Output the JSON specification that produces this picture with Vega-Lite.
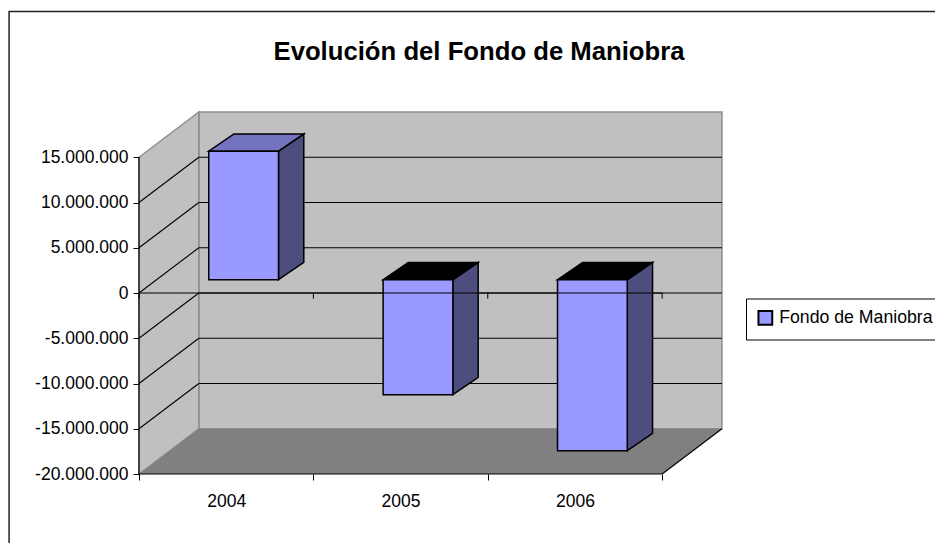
{
"$schema":"https://vega.github.io/schema/vega-lite/v6.json",
"autosize":{"type":"none"},
"padding":{"left":139,"top":112,"right":212,"bottom":69},
"width":584,"height":362,
"background":"white",
"title":{"text":"Evolución del Fondo de Maniobra","font":"Liberation Sans","fontSize":25.7,"fontWeight":"bold","color":"black","anchor":"middle","dx":48,"offset":-55},
"config":{"view":{"stroke":null},"axis":{"labelFont":"Liberation Sans","labelFontSize":17.5,"labelColor":"black","tickColor":"black","domain":false,"grid":false,"title":null,"zindex":1},"legend":{"labelFont":"Liberation Sans","labelFontSize":17.7,"labelColor":"black"}},
"datasets":{
"bars":[{"year":2004,"value":14200000,"series":"Fondo de Maniobra"},{"year":2005,"value":-12700000,"series":"Fondo de Maniobra"},{"year":2006,"value":-18900000,"series":"Fondo de Maniobra"}],
"depth":[{"d":0},{"d":1}],
"grid":[{"v":-15000000},{"v":-10000000},{"v":-5000000},{"v":0},{"v":5000000},{"v":10000000}],
"bounds":[{"b":2003.5},{"b":2004.5},{"b":2005.5},{"b":2006.5}],
"one":[{"o":1}]
},
"layer":[
{"data":{"name":"one"},"mark":{"type":"rect","fill":"transparent","stroke":"#222222","strokeWidth":1.5},
"encoding":{"x":{"datum":2002.755,"type":"quantitative","scale":{"domain":[2003.5,2006.849],"nice":false,"zero":false},
"axis":{"zindex":1,"values":[2003.5,2004,2004.5,2005,2005.5,2006,2006.5],"tickSize":6,"labelPadding":12,"labelOverlap":false,"labelFlush":false,"labelBound":false,"labelAngle":0,"tickOpacity":{"condition":{"test":"datum.value%1==0","value":0},"value":1},"labelExpr":"datum.value%1==0?format(datum.value,'d'):''"}},
"x2":{"datum":2010},
"y":{"datum":31100000,"type":"quantitative","scale":{"domain":[-20000000,20000000],"nice":false,"zero":false},
"axis":{"zindex":1,"values":[-20000000,-15000000,-10000000,-5000000,0,5000000,10000000,15000000],"tickSize":6,"labelPadding":5,"labelExpr":"replace(replace(format(datum.value,','),/,/g,'.'),'−','-')"}},
"y2":{"datum":-50000000}}},
{"data":{"name":"one"},"mark":{"type":"rect","fill":"#C0C0C0","stroke":"#8E8E8E","strokeWidth":1.5},
"encoding":{"x":{"datum":2003.843,"type":"quantitative","scale":{"domain":[2003.5,2006.849],"nice":false,"zero":false}},"x2":{"datum":2006.843},
"y":{"datum":-15000000,"type":"quantitative","scale":{"domain":[-20000000,20000000],"nice":false,"zero":false}},"y2":{"datum":20000000}}},
{"data":{"name":"depth"},"transform":[{"calculate":"2003.5+0.343*datum.d","as":"x"},{"calculate":"-20000000+5000000*datum.d","as":"lo"},{"calculate":"15000000+5000000*datum.d","as":"hi"}],
"mark":{"type":"area","fill":"#C0C0C0","stroke":"#8E8E8E","strokeWidth":1.5},
"encoding":{"x":{"field":"x","type":"quantitative","scale":{"domain":[2003.5,2006.849],"nice":false,"zero":false}},
"y":{"field":"lo","type":"quantitative","stack":null,"scale":{"domain":[-20000000,20000000],"nice":false,"zero":false}},"y2":{"field":"hi"}}},
{"data":{"name":"depth"},"transform":[{"calculate":"2003.5+0.343*datum.d","as":"x0"},{"calculate":"2006.5+0.343*datum.d","as":"x1"},{"calculate":"-20000000+5000000*datum.d","as":"y"}],
"mark":{"type":"area","orient":"horizontal","fill":"#808080"},
"encoding":{"x":{"field":"x0","type":"quantitative","stack":null,"scale":{"domain":[2003.5,2006.849],"nice":false,"zero":false}},"x2":{"field":"x1"},
"y":{"field":"y","type":"quantitative","scale":{"domain":[-20000000,20000000],"nice":false,"zero":false}}}},
{"data":{"name":"grid"},"transform":[{"calculate":"datum.v+5000000","as":"b"}],
"mark":{"type":"rule","color":"black","strokeWidth":1.1},
"encoding":{"x":{"datum":2003.5,"type":"quantitative","scale":{"domain":[2003.5,2006.849],"nice":false,"zero":false}},"x2":{"datum":2003.843},
"y":{"field":"v","type":"quantitative","scale":{"domain":[-20000000,20000000],"nice":false,"zero":false}},"y2":{"field":"b"}}},
{"data":{"name":"grid"},"transform":[{"calculate":"datum.v+5000000","as":"b"}],
"mark":{"type":"rule","color":"black","strokeWidth":1.1},
"encoding":{"x":{"datum":2003.843,"type":"quantitative","scale":{"domain":[2003.5,2006.849],"nice":false,"zero":false}},"x2":{"datum":2006.843},
"y":{"field":"b","type":"quantitative","scale":{"domain":[-20000000,20000000],"nice":false,"zero":false}}}},
{"data":{"name":"bars"},"transform":[{"calculate":"[0,1]","as":"d"},{"flatten":["d"]},{"calculate":"datum.year+0.3+0.145*datum.d","as":"x"},{"calculate":"1470000+1910000*datum.d","as":"base"},{"calculate":"datum.value+datum.base","as":"end"}],
"mark":{"type":"area","fill":"#4D4D80","stroke":"black","strokeWidth":1.5},
"encoding":{"detail":{"field":"year"},"x":{"field":"x","type":"quantitative","scale":{"domain":[2003.5,2006.849],"nice":false,"zero":false}},
"y":{"field":"end","type":"quantitative","stack":null,"scale":{"domain":[-20000000,20000000],"nice":false,"zero":false}},"y2":{"field":"base"}}},
{"data":{"name":"bars"},"transform":[{"calculate":"[0,1]","as":"d"},{"flatten":["d"]},{"calculate":"datum.year-0.1+0.145*datum.d","as":"x0"},{"calculate":"datum.year+0.3+0.145*datum.d","as":"x1"},{"calculate":"max(datum.value,0)+1470000+1910000*datum.d","as":"y"}],
"mark":{"type":"area","orient":"horizontal","stroke":"black","strokeWidth":1.5},
"encoding":{"detail":{"field":"year"},"fill":{"condition":{"test":"datum.value<0","value":"#000000"},"value":"#7373BF"},
"x":{"field":"x0","type":"quantitative","stack":null,"scale":{"domain":[2003.5,2006.849],"nice":false,"zero":false}},"x2":{"field":"x1"},
"y":{"field":"y","type":"quantitative","scale":{"domain":[-20000000,20000000],"nice":false,"zero":false}}}},
{"data":{"name":"bars"},"transform":[{"calculate":"datum.year-0.1","as":"x0"},{"calculate":"datum.year+0.3","as":"x1"},{"calculate":"datum.value+1470000","as":"end"},{"calculate":"1470000","as":"base"}],
"mark":{"type":"rect","stroke":"black","strokeWidth":1.5},
"encoding":{"x":{"field":"x0","type":"quantitative","scale":{"domain":[2003.5,2006.849],"nice":false,"zero":false}},"x2":{"field":"x1"},
"y":{"field":"end","type":"quantitative","scale":{"domain":[-20000000,20000000],"nice":false,"zero":false}},"y2":{"field":"base"},
"color":{"field":"series","type":"nominal","scale":{"range":["#9999FF"]},
"legend":{"title":null,"orient":"none","legendX":607,"legendY":186.5,"strokeColor":"black","fillColor":"white","padding":10.5,"symbolType":"square","symbolSize":190,"symbolStrokeColor":"black","symbolStrokeWidth":2,"symbolOpacity":1,"labelOffset":5,"labelLimit":300}}}},
{"data":{"name":"one"},"mark":{"type":"rule","color":"black","strokeWidth":1.2},
"encoding":{"x":{"datum":2003.5,"type":"quantitative","scale":{"domain":[2003.5,2006.849],"nice":false,"zero":false}},"x2":{"datum":2006.5},
"y":{"datum":0,"type":"quantitative","scale":{"domain":[-20000000,20000000],"nice":false,"zero":false}}}},
{"data":{"name":"bounds"},"mark":{"type":"rule","color":"black","strokeWidth":1},
"encoding":{"x":{"field":"b","type":"quantitative","scale":{"domain":[2003.5,2006.849],"nice":false,"zero":false}},
"y":{"datum":0,"type":"quantitative","scale":{"domain":[-20000000,20000000],"nice":false,"zero":false}},"y2":{"datum":-620000}}},
{"data":{"name":"one"},"mark":{"type":"rule","color":"black","strokeWidth":1.2},
"encoding":{"x":{"datum":2003.5,"type":"quantitative","scale":{"domain":[2003.5,2006.849],"nice":false,"zero":false}},"x2":{"datum":2006.5},
"y":{"datum":-20000000,"type":"quantitative","scale":{"domain":[-20000000,20000000],"nice":false,"zero":false}}}},
{"data":{"name":"one"},"mark":{"type":"rule","color":"black","strokeWidth":1.2},
"encoding":{"x":{"datum":2006.5,"type":"quantitative","scale":{"domain":[2003.5,2006.849],"nice":false,"zero":false}},"x2":{"datum":2006.843},
"y":{"datum":-20000000,"type":"quantitative","scale":{"domain":[-20000000,20000000],"nice":false,"zero":false}},"y2":{"datum":-15000000}}},
{"data":{"name":"one"},"mark":{"type":"rule","color":"black","strokeWidth":1.2},
"encoding":{"x":{"datum":2003.5,"type":"quantitative","scale":{"domain":[2003.5,2006.849],"nice":false,"zero":false}},
"y":{"datum":-20000000,"type":"quantitative","scale":{"domain":[-20000000,20000000],"nice":false,"zero":false}},"y2":{"datum":15000000}}}
]
}
